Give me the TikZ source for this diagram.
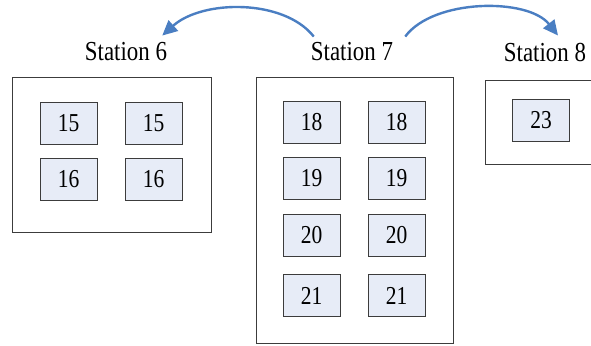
\documentclass[tikz,border=0pt]{standalone}
\usepackage{fontspec}
\setmainfont{Liberation Serif}
\usetikzlibrary{arrows.meta,positioning}
\definecolor{cellfill}{RGB}{231,236,247}
\definecolor{frameline}{RGB}{60,60,60}
\definecolor{flowblue}{RGB}{74,126,194}
\tikzset{
  stationbox/.style={draw=frameline,line width=0.9pt},
  cell/.style={draw=frameline,fill=cellfill,line width=0.9pt,minimum width=57pt,minimum height=42pt,inner sep=0pt,
    font=\fontsize{21.5pt}{22pt}\selectfont},
  stationlabel/.style={inner sep=0pt,font=\fontsize{22.9pt}{24pt}\selectfont},
  flow/.style={draw=flowblue,line width=2.4pt,-{Triangle[length=15pt,width=14pt]}}
}
\newcommand{\tall}[1]{\scalebox{1}[1.2]{#1}}
\begin{document}
\begin{tikzpicture}[x=1pt,y=-1pt]
  \useasboundingbox (0,0) rectangle (591,345);
  \clip (0,0) rectangle (591,345);

  % station frames
  \draw[stationbox] (12,77) rectangle (211,232);
  \draw[stationbox] (256,77) rectangle (453,343);
  \draw[stationbox] (485,80) rectangle (600,164);

  % station titles
  \node[stationlabel] (s6) at (126,52) {\tall{Station 6}};
  \node[stationlabel] (s7) at (352,52) {\tall{Station 7}};
  \node[stationlabel] (s8) at (545,52) {\tall{Station 8}};

  % station 6 cells
  \node[cell] (a1) at (68.5,123)   {\tall{15}};
  \node[cell] (a2) at (153.5,123)  {\tall{15}};
  \node[cell] (a3) at (68.5,179.5) {\tall{16}};
  \node[cell] (a4) at (153.5,179.5){\tall{16}};

  % station 7 cells
  \node[cell] (b1) at (311.5,122.5) {\tall{18}};
  \node[cell] (b2) at (396.5,122.5) {\tall{18}};
  \node[cell] (b3) at (311.5,178.5) {\tall{19}};
  \node[cell] (b4) at (396.5,178.5) {\tall{19}};
  \node[cell] (b5) at (311.5,235)   {\tall{20}};
  \node[cell] (b6) at (396.5,235)   {\tall{20}};
  \node[cell] (b7) at (311.5,295.5) {\tall{21}};
  \node[cell] (b8) at (396.5,295.5) {\tall{21}};

  % station 8 cell
  \node[cell] (c1) at (541,120) {\tall{23}};

  % transfer arrows
  \draw[flow] ([xshift=3pt,yshift=6pt]s7.north west)
    .. controls +(-30,-38) and +(40,-36) .. ([xshift=-5pt,yshift=7pt]s6.north east);
  \draw[flow] ([xshift=12pt,yshift=6pt]s7.north east)
    .. controls +(28,-38) and +(-30,-38) .. ([xshift=13pt,yshift=7pt]s8.north);
\end{tikzpicture}
\end{document}
